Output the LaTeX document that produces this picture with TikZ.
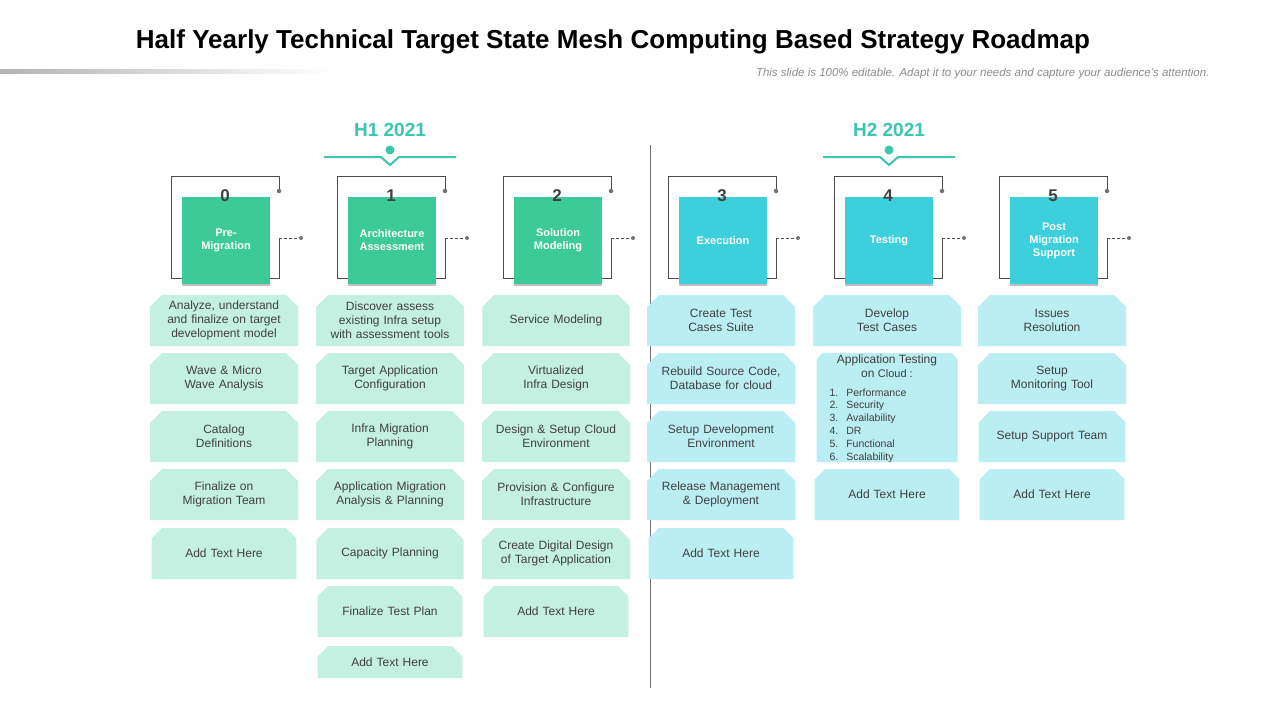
\documentclass[tikz,border=0pt]{standalone}
\usepackage{fontspec}
\setmainfont{Liberation Sans}
\usetikzlibrary{shapes.misc}
\definecolor{gbox}{HTML}{3CCB98}
\definecolor{tbox}{HTML}{3DD0DC}
\definecolor{gcard}{HTML}{C3F0E0}
\definecolor{tcard}{HTML}{BAEEF2}
\definecolor{gtxt}{HTML}{3CC79A}
\definecolor{ttxt}{HTML}{35C8D4}
\definecolor{txt}{HTML}{404040}
\tikzset{
 card/.style={chamfered rectangle, chamfered rectangle corners={north west,north east}, chamfered rectangle xsep=6pt, chamfered rectangle ysep=6pt, minimum width=141pt, inner sep=0pt, text width=136pt, align=center, font=\fontsize{12}{14}\selectfont, text=txt},
 gc/.style={card, fill=gcard},
 tc/.style={card, fill=tcard},
 hbox/.style={minimum width=88pt, minimum height=87pt, inner sep=0pt, text width=80pt, align=center, text=white, font=\bfseries\fontsize{11}{13}\selectfont},
 num/.style={font=\bfseries\fontsize{17}{20}\selectfont, text=txt},
 frame/.style={draw=black!70, line width=0.8pt},
 gdot/.style={circle, fill=black!55, inner sep=0pt, minimum size=4.5pt},
}
\newcommand{\crd}[6]{\node[#5, minimum height=#4pt] (#1) at (#2, #3) {#6};}
\begin{document}
\begin{tikzpicture}[x=1pt,y=-1pt]
\useasboundingbox (0,0) rectangle (1280,720);
\fill[white] (0,0) rectangle (1280,720);
\node[font=\bfseries\fontsize{26}{30}\selectfont, text=black] (title) at (613,42) {Half Yearly Technical Target State Mesh Computing Based Strategy Roadmap};
\shade[left color=black!30, right color=white] (0,69) rectangle (330,73);
\node[anchor=east, font=\itshape\fontsize{11.5}{13}\selectfont, text=black!45] (sub) at (1213,74) {This slide is 100\% editable. Adapt it to your needs and capture your audience's attention.};
% divider
\draw[black!55, line width=0.8pt] (650,145) -- (650,688);
% period headers
\foreach \cx/\lab in {390/H1 2021, 889/H2 2021}{
 \node[font=\bfseries\fontsize{19}{22}\selectfont, text=ttxt!40!gtxt] at (\cx,130) {\lab};
 \draw[ttxt!35!gtxt, line width=2pt] (\cx-66,157) -- (\cx-9,157) -- (\cx,165) -- (\cx+9,157) -- (\cx+66,157);
 \fill[ttxt!35!gtxt] (\cx,150) circle (4.5pt);
}
% step headers
\foreach \i/\cx/\col/\lab in {0/224/gbox/{Pre-\\Migration}, 1/390/gbox/{Architecture\\Assessment}, 2/556/gbox/{Solution\\Modeling}, 3/721/tbox/{Execution}, 4/887/tbox/{Testing}, 5/1052/tbox/{Post\\Migration\\Support}}{
 \draw[frame] (\cx+55,191) -- (\cx+55,176) -- (\cx-53,176) -- (\cx-53,278) -- (\cx+55,278) -- (\cx+55,238);
 \node[gdot] (d\i) at (\cx+55,191) {};
 \node[hbox, fill=\col] (h\i) at (\cx+2,240.5) {\lab};
 \fill[black!25] (h\i.south west) rectangle ([yshift=-2pt]h\i.south east);
 \draw[frame, densely dashed, line width=0.6pt] (\cx+55,238) -- (\cx+75,238);
 \node[gdot, minimum size=4pt] (e\i) at (\cx+77,238) {};
 \node[num] (n\i) at (\cx+1,196) {\i};
}
% column 0
\crd{a1}{224}{320.5}{51}{gc}{Analyze, understand and finalize on target development model}
\crd{a2}{224}{378.5}{51}{gc}{Wave \& Micro\\Wave Analysis}
\crd{a3}{224}{436.5}{51}{gc}{Catalog\\Definitions}
\crd{a4}{224}{494.5}{51}{gc}{Finalize on\\Migration Team}
\crd{a5}{224}{553.5}{51}{gc}{Add Text Here}
% column 1
\crd{b1}{390}{320.5}{51}{gc}{Discover assess existing Infra setup with assessment tools}
\crd{b2}{390}{378.5}{51}{gc}{Target Application\\Configuration}
\crd{b3}{390}{436.5}{51}{gc}{Infra Migration\\Planning}
\crd{b4}{390}{494.5}{51}{gc}{Application Migration\\Analysis \& Planning}
\crd{b5}{390}{553.5}{51}{gc}{Capacity Planning}
\crd{b6}{390}{611.5}{51}{gc}{Finalize Test Plan}
\crd{b7}{390}{662}{32}{gc}{Add Text Here}
% column 2
\crd{c1}{556}{320.5}{51}{gc}{Service Modeling}
\crd{c2}{556}{378.5}{51}{gc}{Virtualized\\Infra Design}
\crd{c3}{556}{436.5}{51}{gc}{Design \& Setup Cloud\\Environment}
\crd{c4}{556}{494.5}{51}{gc}{Provision \& Configure\\Infrastructure}
\crd{c5}{556}{553.5}{51}{gc}{Create Digital Design\\of Target Application}
\crd{c6}{556}{611.5}{51}{gc}{Add Text Here}
% column 3
\crd{d1}{721}{320.5}{51}{tc}{Create Test\\Cases Suite}
\crd{d2}{721}{378.5}{51}{tc}{Rebuild Source Code,\\Database for cloud}
\crd{d3}{721}{436.5}{51}{tc}{Setup Development\\Environment}
\crd{d4}{721}{494.5}{51}{tc}{Release Management\\\& Deployment}
\crd{d5}{721}{553.5}{51}{tc}{Add Text Here}
% column 4
\crd{f1}{887}{320.5}{51}{tc}{Develop\\Test Cases}
\node[tc, minimum height=109pt] (f2) at (887,407.5) {};
\node[font=\fontsize{12}{14}\selectfont, text=txt, align=center] (f2t) at (887,366) {Application Testing\\on {\fontsize{11}{13}\selectfont Cloud :}};
\node[font=\fontsize{10.5}{12.8}\selectfont, text=txt, align=left, anchor=north west] (f2l) at (826,385) {1.\hspace{8pt}Performance\\2.\hspace{8pt}Security\\3.\hspace{8pt}Availability\\4.\hspace{8pt}DR\\5.\hspace{8pt}Functional\\6.\hspace{8pt}Scalability};
\crd{f3}{887}{494.5}{51}{tc}{Add Text Here}
% column 5
\crd{g1}{1052}{320.5}{51}{tc}{Issues\\Resolution}
\crd{g2}{1052}{378.5}{51}{tc}{Setup\\Monitoring Tool}
\crd{g3}{1052}{436.5}{51}{tc}{Setup Support Team}
\crd{g4}{1052}{494.5}{51}{tc}{Add Text Here}
\end{tikzpicture}
\end{document}
